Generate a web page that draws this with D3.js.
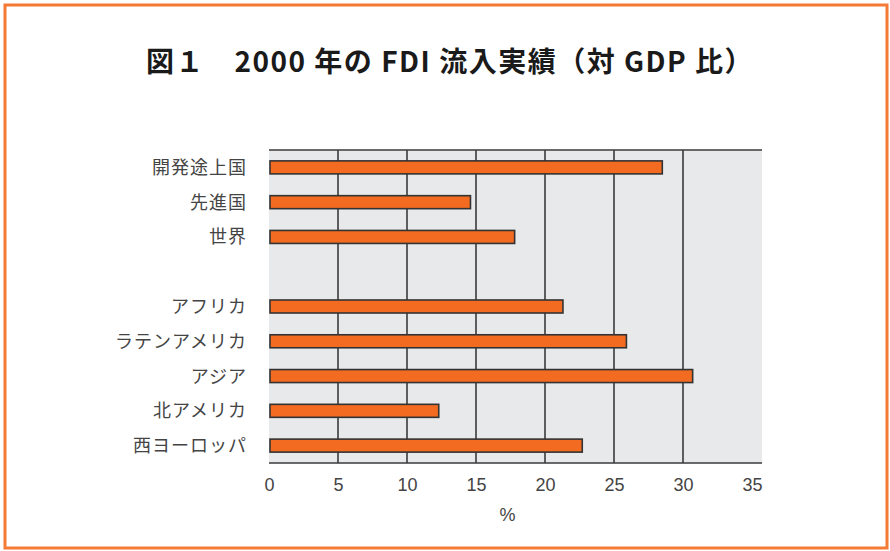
<!DOCTYPE html>
<html>
<head>
<meta charset="utf-8">
<script src="https://cdn.jsdelivr.net/npm/d3@7"></script>
<style>
  body { margin: 0; background: #fff; }
  svg { display: block; }
</style>
</head>
<body>
<svg id="drawing_region"></svg>
<script>
// data (FDI inflow, % of GDP, 2000)
const categories = ['開発途上国', '先進国', '世界', '', 'アフリカ', 'ラテンアメリカ', 'アジア', '北アメリカ', '西ヨーロッパ'];
const values = [28.5, 14.6, 17.8, null, 21.3, 25.9, 30.7, 12.3, 22.7];
const xticks = [0, 5, 10, 15, 20, 25, 30, 35];
const title = '図１　2000 年の FDI 流入実績（対 GDP 比）';
const xlabel = '%';

const config = {
    width: 890,
    height: 551,
    margin: { top: 150, right: 138, bottom: 88, left: 269 }
};

const svg = d3.select('#drawing_region')
    .attr('width', config.width)
    .attr('height', config.height);

// orange frame
svg.append('rect')
    .attr('x', 5).attr('y', 5)
    .attr('width', config.width - 8).attr('height', config.height - 8)
    .attr('fill', 'none')
    .attr('stroke', '#f47a35')
    .attr('stroke-width', 3);

svg.append('text')
    .attr('x', 450).attr('y', 72)
    .attr('text-anchor', 'middle')
    .attr('font-family', '"Noto Sans CJK JP", sans-serif')
    .attr('font-weight', 'bold')
    .attr('font-size', 28)
    .attr('letter-spacing', 1.5)
    .attr('fill', '#1a1a1a')
    .text(title);

const inner_width = 752 - config.margin.left;
const inner_height = 463 - config.margin.top;

const chart = svg.append('g')
    .attr('transform', `translate(${config.margin.left}, ${config.margin.top})`);

const xscale = d3.scaleLinear().domain([0, 35]).range([0, inner_width]);
const yscale = d3.scaleBand().domain(categories).range([0, inner_height]);

// gray plot background (runs a little past 35)
chart.append('rect')
    .attr('x', 0).attr('y', 0)
    .attr('width', inner_width + 10).attr('height', inner_height)
    .attr('fill', '#e8e9eb');

// vertical grid lines
chart.selectAll('.grid')
    .data(xticks.filter(t => t > 0 && t < 35))
    .join('line')
    .attr('class', 'grid')
    .attr('x1', d => xscale(d)).attr('x2', d => xscale(d))
    .attr('y1', 0).attr('y2', inner_height)
    .attr('stroke', '#3a3a3a')
    .attr('stroke-width', 1.6);

// top and bottom lines
chart.selectAll('.hline')
    .data([0, inner_height])
    .join('line')
    .attr('class', 'hline')
    .attr('x1', 0).attr('x2', inner_width + 10)
    .attr('y1', d => d).attr('y2', d => d)
    .attr('stroke', '#3a3a3a')
    .attr('stroke-width', 1.6);

const barH = 13;
chart.selectAll('.bar')
    .data(categories.map((c, i) => ({ c: c, v: values[i] })).filter(d => d.v !== null))
    .join('rect')
    .attr('class', 'bar')
    .attr('x', xscale(0) + 1)
    .attr('y', d => yscale(d.c) + yscale.bandwidth() / 2 - barH / 2)
    .attr('width', d => xscale(d.v) - xscale(0) - 1)
    .attr('height', barH)
    .attr('fill', '#f26b21')
    .attr('stroke', '#333')
    .attr('stroke-width', 1.6);

// category labels
chart.selectAll('.cat')
    .data(categories.filter(c => c !== ''))
    .join('text')
    .attr('class', 'cat')
    .attr('x', -22)
    .attr('y', d => yscale(d) + yscale.bandwidth() / 2)
    .attr('dy', '0.36em')
    .attr('text-anchor', 'end')
    .attr('font-family', '"Noto Sans CJK JP", sans-serif')
    .attr('font-size', 18)
    .attr('letter-spacing', 1)
    .attr('fill', '#444')
    .text(d => d);

// x axis labels
const xaxis = d3.axisBottom(xscale).tickValues(xticks).tickSize(0).tickPadding(15);
const xaxis_group = chart.append('g')
    .attr('transform', `translate(0, ${inner_height})`)
    .call(xaxis);
xaxis_group.select('.domain').remove();
xaxis_group.selectAll('text')
    .attr('font-family', 'Liberation Sans, Arial, sans-serif')
    .attr('font-size', 18)
    .attr('fill', '#444');

chart.append('text')
    .attr('x', xscale(17.5) - 3)
    .attr('y', inner_height + 58)
    .attr('text-anchor', 'middle')
    .attr('font-family', 'Liberation Sans, Arial, sans-serif')
    .attr('font-size', 18)
    .attr('fill', '#444')
    .text(xlabel);
</script>
</body>
</html>
